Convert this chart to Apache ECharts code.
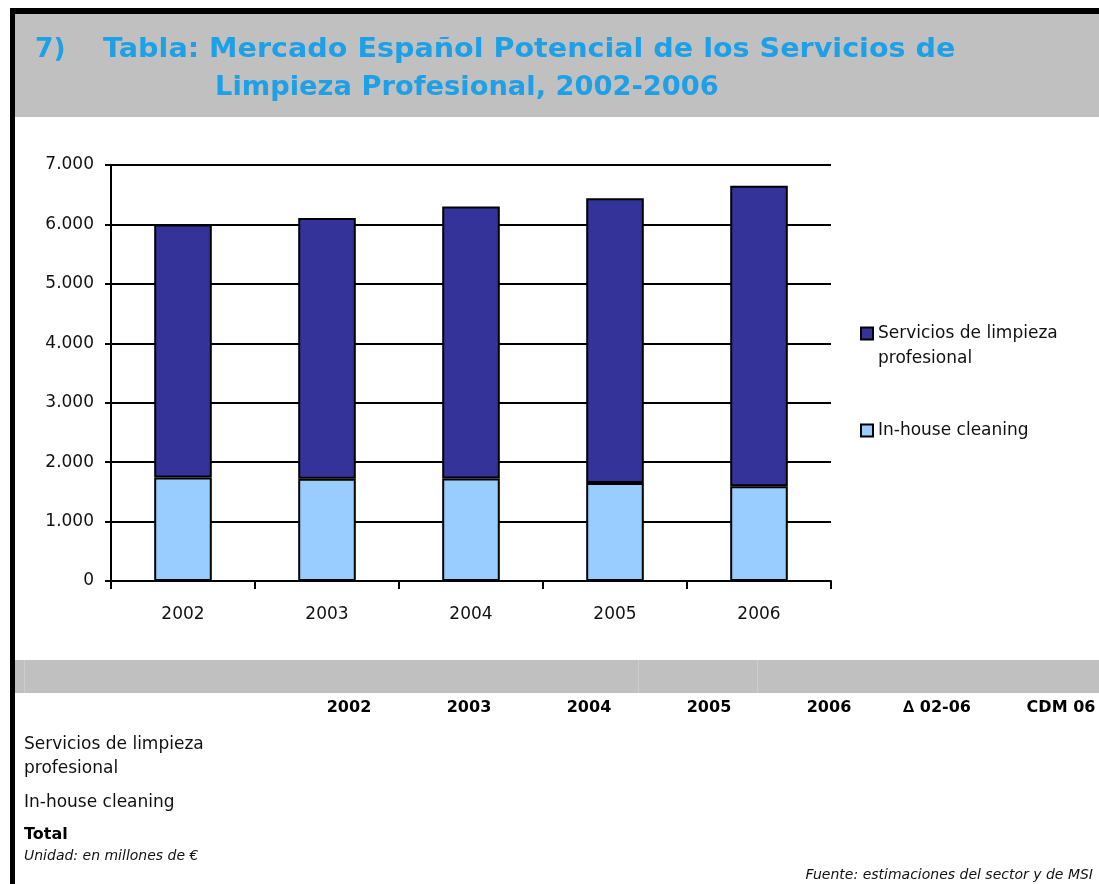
<!DOCTYPE html>
<html lang="es">
<head>
  <meta charset="utf-8">
  <title>Mercado Español Potencial de los Servicios de Limpieza Profesional</title>
  <script src="https://cdn.jsdelivr.net/npm/echarts@6/dist/echarts.min.js"></script>
  <style type="text/css">
    html, body { margin: 0; padding: 0; background: #fff; }
    #chart { width: 1099px; height: 884px; }
  </style>
</head>
<body>
<div id="chart"></div>
<script type="text/javascript">
// datos (millones de euros)
var years = ['2002', '2003', '2004', '2005', '2006'];
var inHouse = [1740, 1720, 1725, 1650, 1595];
var servicios = [4260, 4390, 4575, 4790, 5055];
var yTicks = [0, 1000, 2000, 3000, 4000, 5000, 6000, 7000];
var tableCols = ['2002', '2003', '2004', '2005', '2006', '\u2206 02-06', 'CDM 06'];

var nameServ = 'Servicios de limpieza profesional';
var nameHouse = 'In-house cleaning';

var FONT = '"DejaVu Sans", sans-serif';
var BLUE = '#1ea0e6';

function fmt(v) {
  return String(v).replace(/\B(?=(\d{3})+(?!\d))/g, '.');
}

var chart = echarts.init(document.getElementById('chart'));

// cabecera de columnas de la tabla
var colX = [349, 469, 589, 709, 829, 937, 1061];
var tableHead = tableCols.map(function (c, i) {
  return {
    type: 'text', x: colX[i], y: 700,
    style: { text: c, fill: '#000', font: 'bold 16px ' + FONT, align: 'center' }
  };
});

var option = {
  animation: false,
  textStyle: { fontFamily: FONT },
  grid: { left: 111, right: 268, top: 165, bottom: 303 },
  legend: [
    {
      data: [nameServ],
      orient: 'vertical',
      left: 860, top: 296,
      padding: 0,
      itemWidth: 12, itemHeight: 12,
      icon: 'rect',
      // linea vacia arriba para que el icono quede junto a la primera linea
      formatter: function () { return ' \nServicios de limpieza\nprofesional'; },
      textStyle: { fontSize: 17, color: '#111', lineHeight: 25 }
    },
    {
      data: [nameHouse],
      orient: 'vertical',
      left: 860, top: 422,
      padding: 0,
      itemWidth: 12, itemHeight: 12,
      icon: 'rect',
      textStyle: { fontSize: 17, color: '#111' }
    }
  ],
  xAxis: {
    type: 'category',
    data: years,
    axisLine: { lineStyle: { color: '#000', width: 2 } },
    axisTick: { show: true, length: 8, lineStyle: { color: '#000', width: 2 } },
    axisLabel: { color: '#111', fontSize: 17, margin: 25 }
  },
  yAxis: {
    type: 'value',
    min: 0, max: 7000, interval: 1000,
    axisLine: { show: true, lineStyle: { color: '#000', width: 2 } },
    axisTick: { show: true, length: 6, lineStyle: { color: '#000', width: 2 } },
    axisLabel: {
      color: '#111', fontSize: 17, margin: 17,
      formatter: function (v) { return yTicks.indexOf(v) >= 0 ? fmt(v) : ''; }
    },
    splitLine: { show: true, lineStyle: { color: '#000', width: 2 } }
  },
  series: [
    {
      name: nameHouse,
      type: 'bar',
      stack: 'total',
      barWidth: '40%',
      data: inHouse,
      itemStyle: { color: '#99ccff', borderColor: '#000', borderWidth: 2 }
    },
    {
      name: nameServ,
      type: 'bar',
      stack: 'total',
      barWidth: '40%',
      data: servicios,
      itemStyle: { color: '#333399', borderColor: '#000', borderWidth: 2 }
    }
  ],
  graphic: [
    // marco negro
    { type: 'rect', shape: { x: 10, y: 8, width: 1089, height: 6 }, style: { fill: '#000' }, z: 100 },
    { type: 'rect', shape: { x: 10, y: 8, width: 5, height: 876 }, style: { fill: '#000' }, z: 100 },
    // banda gris titulo
    { type: 'rect', shape: { x: 15, y: 14, width: 1084, height: 103 }, style: { fill: '#c0c0c0' }, z: -10 },
    { type: 'text', x: 35, y: 37, scaleX: 1.02, style: { text: '7)', fill: BLUE, font: 'bold 26px ' + FONT } },
    { type: 'text', x: 103, y: 37, scaleX: 1.1, style: { text: 'Tabla: Mercado Español Potencial de los Servicios de', fill: BLUE, font: 'bold 26px ' + FONT } },
    { type: 'text', x: 215, y: 75, scaleX: 1.05, style: { text: 'Limpieza Profesional, 2002-2006', fill: BLUE, font: 'bold 26px ' + FONT } },
    // banda gris tabla
    { type: 'rect', shape: { x: 15, y: 660, width: 1084, height: 33 }, style: { fill: '#c0c0c0' }, z: -10 },
    { type: 'rect', shape: { x: 24, y: 660, width: 1, height: 33 }, style: { fill: '#cdcdcd' }, z: -9 },
    { type: 'rect', shape: { x: 638, y: 660, width: 1, height: 33 }, style: { fill: '#cdcdcd' }, z: -9 },
    { type: 'rect', shape: { x: 757, y: 660, width: 1, height: 33 }, style: { fill: '#cdcdcd' }, z: -9 },
    // filas
    { type: 'text', x: 24, y: 733, style: { text: 'Servicios de limpieza\nprofesional', fill: '#111', font: '17px ' + FONT, lineHeight: 24 } },
    { type: 'text', x: 24, y: 794, style: { text: 'In-house cleaning', fill: '#111', font: '17px ' + FONT } },
    { type: 'text', x: 24, y: 827, style: { text: 'Total', fill: '#000', font: 'bold 16px ' + FONT } },
    { type: 'text', x: 24, y: 849, style: { text: 'Unidad: en millones de \u20ac', fill: '#111', font: 'italic 14px ' + FONT } },
    { type: 'text', x: 1093, y: 868, style: { text: 'Fuente: estimaciones del sector y de MSI', fill: '#111', font: 'italic 14px ' + FONT, align: 'right' } }
  ].concat(tableHead)
};

chart.setOption(option);
</script>
</body>
</html>
